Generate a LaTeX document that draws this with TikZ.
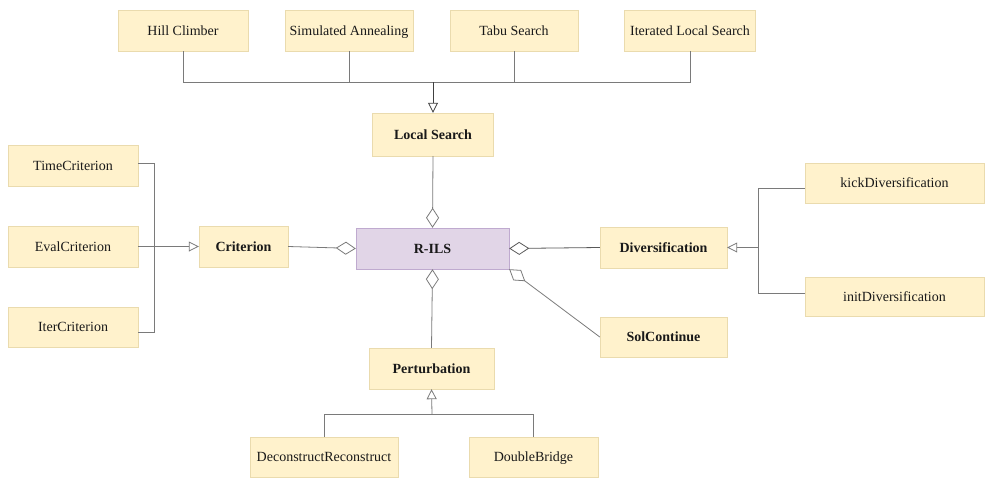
\documentclass[tikz,border=0pt]{standalone}
\usepackage{fontspec}
\setmainfont{Liberation Serif}
\usetikzlibrary{arrows.meta}
\definecolor{clsfill}{HTML}{FFF2CC}
\definecolor{clsline}{HTML}{EADBAE}
\definecolor{mainfill}{HTML}{E1D5E7}
\definecolor{mainline}{HTML}{BFAACF}
\definecolor{linkgray}{HTML}{7A7A7A}

\begin{document}
\begin{tikzpicture}[x=1pt,y=-1pt,
                cls/.style={draw=clsline,fill=clsfill,inner sep=0pt,minimum height=41pt,
                        text height=12pt,text depth=3pt,
                        font=\fontsize{14}{16}\selectfont,text=black!90},
                key/.style={cls,font=\fontsize{14}{16}\selectfont\bfseries},
                link/.style={draw=linkgray,line width=0.8pt},
                inherit/.style={link,-{Triangle[open,length=10pt,width=10pt]}},
                agg/.style={link,{Diamond[open,length=20pt,width=13pt]}-}]
                \useasboundingbox (0,0) rectangle (985,477);
                \node[cls,minimum width=130pt] (hill) at (183,30.5) {Hill Climber};
                \node[cls,minimum width=128pt] (sa) at (349,30.5) {Simulated Annealing};
                \node[cls,minimum width=128pt] (tabu) at (514,30.5) {Tabu Search};
                \node[cls,minimum width=131pt] (ils) at (690,30.5) {Iterated Local Search};
                \node[key,minimum width=121pt,minimum height=43pt] (ls) at (433,134.5) {Local Search};
                \node[key,draw=mainline,fill=mainfill,minimum width=153pt] (rils) at (432.5,248.5) {R-ILS};
                \node[cls,minimum width=130pt] (time) at (73,165.5) {TimeCriterion};
                \node[cls,minimum width=130pt] (eval) at (73,246.5) {EvalCriterion};
                \node[cls,minimum width=130pt,minimum height=40pt] (iter) at (73,327) {IterCriterion};
                \node[key,minimum width=89pt] (crit) at (243.5,246.5) {Criterion};
                \node[key,minimum width=127pt] (div) at (663.5,247.5) {Diversification};
                \node[cls,minimum width=179pt,minimum height=40pt] (kick) at (894.5,183) {kickDiversification};
                \node[cls,minimum width=179pt,minimum height=39pt] (init) at (894.5,296.5) {initDiversification};
                \node[key,minimum width=127pt,minimum height=40pt] (sol) at (663.5,337) {SolContinue};
                \node[key,minimum width=125pt] (pert) at (431.5,368.5) {Perturbation};
                \node[cls,minimum width=148pt,minimum height=40pt] (dr) at (324,457) {DeconstructReconstruct};
                \node[cls,minimum width=129pt,minimum height=40pt] (db) at (533.5,457) {DoubleBridge};
                \coordinate (lsbus) at (433,82);
                \coordinate (critbus) at (154,246.5);
                \coordinate (divbus) at (758,247.5);
                \coordinate (pertbus) at (432,414);
                \draw[link] (hill.south) |- (lsbus);
                \draw[link] (sa.south) |- (lsbus);
                \draw[link] (tabu.south) |- (lsbus);
                \draw[link] (ils.south) |- (lsbus);
                \draw[inherit,draw=black!75] (lsbus) -- (ls.north);
                \draw[link] ([yshift=2pt]time.east) -| (critbus);
                \draw[link] ([yshift=-5pt]iter.east) -| (critbus);
                \draw[inherit] (eval.east) -- (crit.west);
                \draw[link] ([yshift=-5pt]kick.west) -| (divbus);
                \draw[link] ([yshift=3pt]init.west) -| (divbus);
                \draw[inherit] (divbus) -- (div.east);
                \draw[link] (dr.north) |- (pertbus);
                \draw[link] (db.north) |- (pertbus);
                \draw[inherit] (pertbus) -- (pert.south);
                \draw[agg] (rils.north) -- (ls.south);
                \draw[agg] (rils.west) -- (crit.east);
                \draw[agg,draw=black!65] (rils.east) -- (div.west);
                \draw[agg] (rils.south) -- (pert.north);
                \draw[agg] (rils.south east) -- (sol.west);
\end{tikzpicture}
\end{document}
